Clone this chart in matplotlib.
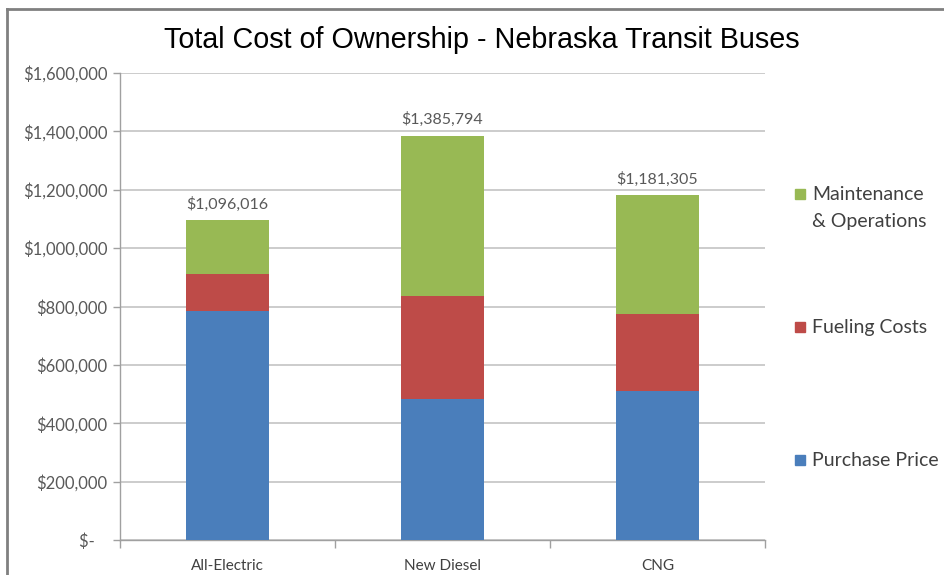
import matplotlib.pyplot as plt
from matplotlib.patches import Rectangle
from matplotlib.ticker import FuncFormatter, FixedLocator

# data
buses = ['All-Electric', 'New Diesel', 'CNG']
purchase = [786000, 483000, 512000]
fueling = [124000, 352000, 262000]
maintenance = [186016, 550794, 407305]
totals = [1096016, 1385794, 1181305]

blue = '#4A7EBB'
red = '#BE4B48'
green = '#98B954'
grey_txt = '#595959'

fig = plt.figure(figsize=(9.45, 5.75), dpi=100)
ax = fig.add_axes([120 / 945, 1 - 540 / 575, 645 / 945, 467 / 575])

x = range(len(buses))
w = 0.39
ax.bar(x, purchase, w, color=blue, zorder=3)
ax.bar(x, fueling, w, bottom=purchase, color=red, zorder=3)
bot2 = [p + f for p, f in zip(purchase, fueling)]
ax.bar(x, maintenance, w, bottom=bot2, color=green, zorder=3)

for i, t in enumerate(totals):
    ax.annotate('${:,}'.format(t), (i, t), xytext=(0, 6), textcoords='offset points',
                ha='center', va='bottom', fontsize=11.5, color=grey_txt, family='Lato')

ax.set_xlim(-0.5, 2.5)
ax.set_ylim(0, 1600000)
ax.set_yticks(range(0, 1600001, 200000))
ax.yaxis.set_major_formatter(FuncFormatter(lambda v, p: '$-   ' if v == 0 else '${:,.0f}'.format(v)))
ax.grid(axis='y', color='#C8C8C8', lw=1.3, zorder=0)

ax.set_xticks(list(x))
ax.set_xticklabels(buses)
ax.xaxis.set_minor_locator(FixedLocator([-0.5, 0.5, 1.5, 2.5]))
ax.tick_params(axis='x', which='major', length=0, pad=14, labelsize=11, labelcolor='#404040')
ax.tick_params(axis='x', which='minor', length=6, color='#A0A0A0', width=1)
ax.tick_params(axis='y', length=5, color='#A0A0A0', width=1, pad=4, labelsize=12, labelcolor=grey_txt)
for lab in ax.get_xticklabels() + ax.get_yticklabels():
    lab.set_family('Lato')

for s in ['top', 'right']:
    ax.spines[s].set_visible(False)
for s in ['left', 'bottom']:
    ax.spines[s].set_color('#A0A0A0')
    ax.spines[s].set_linewidth(1)

fig.text(482 / 945, 1 - 40 / 575, 'Total Cost of Ownership - Nebraska Transit Buses',
         ha='center', va='center', fontsize=20.7, family=['Liberation Sans Narrow', 'Liberation Sans'])

# legend, drawn by hand to keep Excel spacing
leg = [(green, ['Maintenance', '& Operations'], 194),
       (red, ['Fueling Costs'], 327),
       (blue, ['Purchase Price'], 460)]
for col, lines, yy in leg:
    fig.patches.append(Rectangle((795 / 945, 1 - (yy + 5) / 575), 10 / 945, 10 / 575,
                                 transform=fig.transFigure, color=col))
    for k, t in enumerate(lines):
        fig.text(812 / 945, 1 - (yy + 27 * k) / 575, t, ha='left', va='center',
                 fontsize=14, color='#404040', family='Lato')

# outer frame
fig.add_artist(plt.Line2D([7 / 945, 7 / 945], [0, 1 - 9 / 575], transform=fig.transFigure,
                          color='#808080', lw=2))
fig.add_artist(plt.Line2D([7 / 945, 1], [1 - 9 / 575, 1 - 9 / 575], transform=fig.transFigure,
                          color='#808080', lw=2))

plt.savefig('out.png', dpi=100)
